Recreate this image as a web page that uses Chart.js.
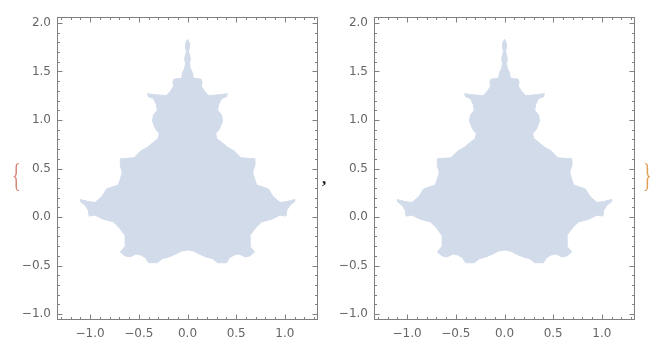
<!DOCTYPE html>
<html>
<head>
<meta charset="utf-8">
<script src="https://cdn.jsdelivr.net/npm/chart.js@4.4.1/dist/chart.umd.min.js"></script>
<style>
  html, body { margin: 0; padding: 0; background: #fff; }
  #wrap { position: relative; width: 663px; height: 353px; overflow: hidden; }
  canvas { position: absolute; top: 0; }
  #plotA { left: 0; }
  #plotB { left: 330px; }
  .mark { position: absolute; font-family: 'Liberation Serif', serif; line-height: 1; }
  #brace-l { left: 9px; top: 160px; font-size: 30px; color: #d4867a; transform: scale(0.6, 1.1); }
  #comma { left: 322px; top: 170px; font-size: 17px; font-weight: bold; color: #222; }
  #brace-r { left: 640px; top: 160px; font-size: 30px; color: #e0a058; transform: scale(0.6, 1.1); }
</style>
</head>
<body>
<div id="wrap">
  <canvas id="plotA" width="330" height="353"></canvas>
  <canvas id="plotB" width="333" height="353"></canvas>
  <span class="mark" id="brace-l">{</span>
  <span class="mark" id="comma">,</span>
  <span class="mark" id="brace-r">}</span>
</div>
<script>
// --- Data ---
// outline of the region, right half from the top tip down to the bottom notch
const rightEdge = [
  [0, 1.83], [0.01, 1.81], [0.02, 1.79], [0.02, 1.74], [0.01, 1.71], [0.02, 1.67],
  [0.03, 1.63], [0.02, 1.58], [0.03, 1.53], [0.05, 1.49], [0.06, 1.43], [0.14, 1.42],
  [0.15, 1.39], [0.14, 1.35], [0.18, 1.29], [0.22, 1.25], [0.33, 1.26], [0.41, 1.27],
  [0.40, 1.24], [0.35, 1.22], [0.32, 1.16], [0.31, 1.10], [0.35, 1.05], [0.36, 0.99],
  [0.33, 0.91], [0.29, 0.86], [0.30, 0.81], [0.35, 0.77], [0.41, 0.72], [0.48, 0.68],
  [0.55, 0.61], [0.69, 0.60], [0.69, 0.53], [0.67, 0.46], [0.69, 0.39], [0.71, 0.33],
  [0.83, 0.29], [0.88, 0.21], [0.95, 0.15], [1.02, 0.16], [1.10, 0.18], [1.10, 0.16],
  [1.05, 0.12], [1.02, 0.07], [1.01, 0.01], [0.95, 0.02], [0.87, -0.02], [0.76, -0.05],
  [0.70, -0.11], [0.64, -0.19], [0.64, -0.30], [0.69, -0.36], [0.64, -0.40], [0.59, -0.41],
  [0.53, -0.38], [0.48, -0.39], [0.43, -0.42], [0.40, -0.47], [0.31, -0.47], [0.26, -0.43],
  [0.19, -0.41], [0.12, -0.38], [0.06, -0.35], [0, -0.34]
];
// left half, from the bottom notch back up to the tip
const leftEdge = [
  [-0.06, -0.35], [-0.12, -0.38], [-0.19, -0.41], [-0.26, -0.43], [-0.31, -0.47], [-0.40, -0.47],
  [-0.43, -0.42], [-0.48, -0.39], [-0.53, -0.38], [-0.59, -0.41], [-0.64, -0.40], [-0.69, -0.36],
  [-0.64, -0.30], [-0.64, -0.19], [-0.70, -0.11], [-0.76, -0.05], [-0.87, -0.02], [-0.95, 0.02],
  [-1.01, 0.01], [-1.02, 0.07], [-1.05, 0.12], [-1.10, 0.16], [-1.10, 0.18], [-1.02, 0.16],
  [-0.95, 0.15], [-0.88, 0.21], [-0.83, 0.29], [-0.71, 0.33], [-0.69, 0.39], [-0.67, 0.46],
  [-0.69, 0.53], [-0.69, 0.60], [-0.55, 0.61], [-0.48, 0.68], [-0.41, 0.72], [-0.35, 0.77],
  [-0.30, 0.81], [-0.29, 0.86], [-0.33, 0.91], [-0.36, 0.99], [-0.35, 1.05], [-0.31, 1.10],
  [-0.32, 1.16], [-0.35, 1.22], [-0.40, 1.24], [-0.41, 1.27], [-0.33, 1.26], [-0.22, 1.25],
  [-0.18, 1.29], [-0.14, 1.35], [-0.15, 1.39], [-0.14, 1.42], [-0.06, 1.43], [-0.05, 1.49],
  [-0.03, 1.53], [-0.02, 1.58], [-0.03, 1.63], [-0.02, 1.67], [-0.01, 1.71], [-0.02, 1.74],
  [-0.02, 1.79], [-0.01, 1.81], [0, 1.83]
];

const xTicks = [-1.0, -0.5, 0.0, 0.5, 1.0];
const yTicks = [-1.0, -0.5, 0.0, 0.5, 1.0, 1.5, 2.0];
const xRange = [-1.34, 1.34];
const yRange = [-1.06, 2.06];

const fillColor = '#d1dbea';
const frameColor = '#808080';
const labelColor = '#666666';

// --- Frame with inward ticks on all four sides (Mathematica style) ---
const frameTicks = {
    id: 'frameTicks',
    afterDatasetsDraw(chart) {
        const { ctx, chartArea: a, scales: { x, y } } = chart;
        const left = Math.round(a.left) + 0.5;
        const right = Math.round(a.right) - 0.5;
        const top = Math.round(a.top) + 0.5;
        const bottom = Math.round(a.bottom) - 0.5;

        ctx.save();
        ctx.strokeStyle = frameColor;
        ctx.lineWidth = 1;
        ctx.beginPath();

        // x ticks every 0.1, longer at every 0.5
        for (let i = -13; i <= 13; i++) {
            const len = i % 5 === 0 ? 5 : 2.5;
            const px = Math.round(x.getPixelForValue(i / 10)) + 0.5;
            ctx.moveTo(px, bottom); ctx.lineTo(px, bottom - len);
            ctx.moveTo(px, top); ctx.lineTo(px, top + len);
        }
        // y ticks
        for (let i = -10; i <= 20; i++) {
            const len = i % 5 === 0 ? 5 : 2.5;
            const py = Math.round(y.getPixelForValue(i / 10)) + 0.5;
            ctx.moveTo(left, py); ctx.lineTo(left + len, py);
            ctx.moveTo(right, py); ctx.lineTo(right - len, py);
        }
        ctx.stroke();
        ctx.strokeRect(left, top, right - left, bottom - top);
        ctx.restore();
    }
};

function fmt(v) {
    return (v < 0 ? '\u2212' : '') + Math.abs(v).toFixed(1);
}

function makePlot(canvasId, yAxisWidth, padRight) {
    const outline = rightEdge.concat(leftEdge).map(([x, y]) => ({ x, y }));
    const font = { family: "'DejaVu Sans', sans-serif", size: 12 };

    return new Chart(document.getElementById(canvasId), {
        type: 'scatter',
        data: {
            datasets: [{
                data: outline,
                showLine: true,
                fill: 'shape',
                backgroundColor: fillColor,
                borderColor: fillColor,
                borderWidth: 1,
                pointRadius: 0,
                tension: 0
            }]
        },
        options: {
            responsive: false,
            animation: false,
            layout: { padding: { top: 17, left: 0, right: padRight, bottom: 0 } },
            plugins: {
                legend: { display: false },
                tooltip: { enabled: false }
            },
            scales: {
                x: {
                    type: 'linear',
                    min: xRange[0],
                    max: xRange[1],
                    grid: { display: false, drawTicks: false },
                    border: { display: false },
                    afterBuildTicks: s => { s.ticks = xTicks.map(v => ({ value: v })); },
                    afterFit: s => { s.height = 33; },
                    ticks: {
                        color: labelColor,
                        font: font,
                        padding: 7,
                        maxRotation: 0,
                        callback: v => fmt(v)
                    }
                },
                y: {
                    type: 'linear',
                    min: yRange[0],
                    max: yRange[1],
                    grid: { display: false, drawTicks: false },
                    border: { display: false },
                    afterBuildTicks: s => { s.ticks = yTicks.map(v => ({ value: v })); },
                    afterFit: s => { s.width = yAxisWidth; },
                    ticks: {
                        color: labelColor,
                        font: font,
                        padding: 6,
                        callback: v => fmt(v)
                    }
                }
            }
        },
        plugins: [frameTicks]
    });
}

makePlot('plotA', 57, 12);
makePlot('plotB', 44, 28);
</script>
</body>
</html>
